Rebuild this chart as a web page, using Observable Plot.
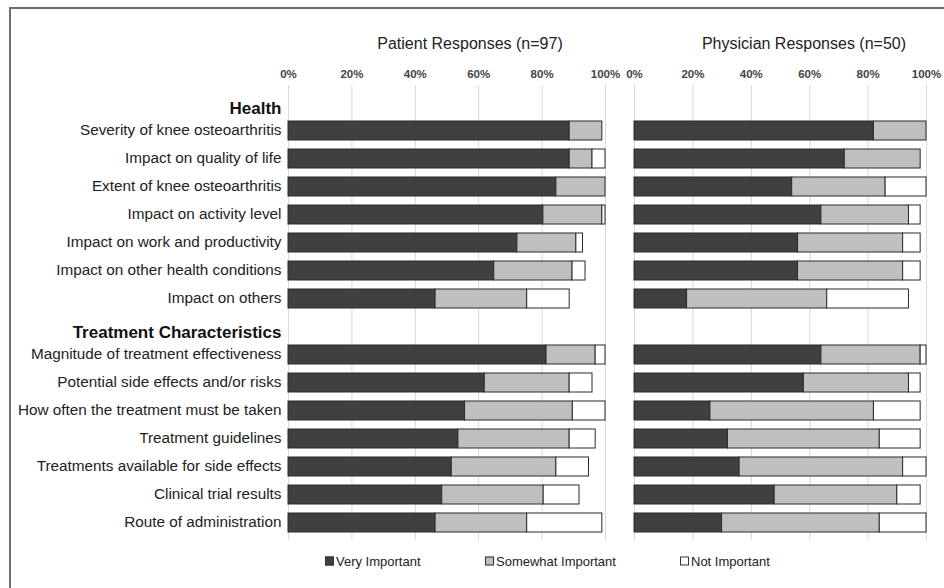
<!DOCTYPE html>
<html>
<head>
<meta charset="utf-8">
<script src="https://cdn.jsdelivr.net/npm/d3@7"></script>
<script src="https://cdn.jsdelivr.net/npm/@observablehq/plot@0.6"></script>
<style>
  body { margin: 0; background: #fff; }
  #wrap { position: relative; width: 944px; height: 588px; background: #fff; font-family: "Liberation Sans", Arial, sans-serif; overflow: hidden; }
  .abs { position: absolute; }
  .title { font-size: 16px; color: #222; white-space: nowrap; transform: translate(-50%, -50%); }
  .leg { font-size: 13px; color: #222; white-space: nowrap; transform: translateY(-50%); display: flex; align-items: center; }
  .sw { display: inline-block; width: 7px; height: 7px; border: 1px solid #333; margin-right: 2px; }
</style>
</head>
<body>
<div id="wrap"></div>
<script>
const groupHeaders = ["Health", "Treatment Characteristics"];
const healthItems = [
  "Severity of knee osteoarthritis",
  "Impact on quality of life",
  "Extent of knee osteoarthritis",
  "Impact on activity level",
  "Impact on work and productivity",
  "Impact on other health conditions",
  "Impact on others"
];
const treatmentItems = [
  "Magnitude of treatment effectiveness",
  "Potential side effects and/or risks",
  "How often the treatment must be taken",
  "Treatment guidelines",
  "Treatments available for side effects",
  "Clinical trial results",
  "Route of administration"
];
const levels = ["Very Important", "Somewhat Important", "Not Important"];
const levelColors = ["#404040", "#bfbfbf", "#ffffff"];
const xTicks = [0, 20, 40, 60, 80, 100];

// Patient responses (n=97), percent, health items then treatment items
const patientVery     = [88.7, 88.7, 84.5, 80.4, 72.2, 64.9, 46.4, 81.4, 61.9, 55.7, 53.6, 51.5, 48.5, 46.4];
const patientSomewhat = [10.3,  7.2, 15.5, 18.6, 18.6, 24.7, 28.9, 15.5, 26.8, 34.0, 35.1, 33.0, 32.0, 28.9];
const patientNot      = [ 0.0,  4.1,  0.0,  1.0,  2.1,  4.1, 13.4,  3.1,  7.2, 10.3,  8.2, 10.3, 11.3, 23.7];

// Physician responses (n=50), percent
const physicianVery     = [82, 72, 54, 64, 56, 56, 18, 64, 58, 26, 32, 36, 48, 30];
const physicianSomewhat = [18, 26, 32, 30, 36, 36, 48, 34, 36, 56, 52, 56, 42, 54];
const physicianNot      = [ 0,  0, 14,  4,  6,  6, 28,  2,  4, 16, 14,  8,  8, 16];

const items = [...healthItems, ...treatmentItems];
const yDomain = [groupHeaders[0], ...healthItems, groupHeaders[1], ...treatmentItems];

function longData(very, some, not) {
  const out = [];
  items.forEach((c, i) => {
    [very[i], some[i], not[i]].forEach((v, j) => {
      if (v > 0) out.push({cat: c, level: levels[j], value: v});
    });
  });
  return out;
}

const FONT = "Liberation Sans, Arial, sans-serif";
const H = 588, MT = 85, MB = 48;

function makePlot(data, opts) {
  const marks = [
    Plot.ruleX(xTicks, {stroke: "#d9d9d9", strokeWidth: 1}),
    Plot.barX(data, {y: "cat", x: "value", fill: "level", stroke: "#2a2a2a", strokeWidth: 1}),
    Plot.axisX({anchor: "top", ticks: xTicks, tickFormat: d => d + "%", tickSize: 0, tickPadding: 8, fontSize: 11.5, fontWeight: "bold", fill: "#444", label: null})
  ];
  if (opts.labels) {
    marks.push(Plot.axisY({tickSize: 0, tickPadding: 7, fontSize: 15.3, fill: "#222", label: null, dy: -1,
      tickFormat: d => groupHeaders.includes(d) ? "" : d}));
    marks.push(Plot.text(groupHeaders, {y: d => d, frameAnchor: "left", dx: -7, dy: 6, textAnchor: "end",
      fontWeight: "bold", fontSize: 17, fill: "#111", text: d => d}));
  }
  return Plot.plot({
    width: opts.width, height: H,
    marginLeft: opts.ml, marginRight: opts.mr, marginTop: MT, marginBottom: MB,
    style: {fontFamily: FONT, background: "transparent", overflow: "visible"},
    x: {domain: [0, 100], axis: null},
    y: {domain: yDomain, type: "band", paddingInner: 0.33, paddingOuter: 0.165, axis: null},
    color: {domain: levels, range: levelColors},
    marks
  });
}

const wrap = document.getElementById("wrap");

const p1 = makePlot(longData(patientVery, patientSomewhat, patientNot), {labels: true, width: 620, ml: 288, mr: 15});
p1.style.position = "absolute"; p1.style.left = "0px"; p1.style.top = "0px";
wrap.appendChild(p1);

const p2 = makePlot(longData(physicianVery, physicianSomewhat, physicianNot), {labels: false, width: 324, ml: 14, mr: 18});
p2.style.position = "absolute"; p2.style.left = "620px"; p2.style.top = "0px";
wrap.appendChild(p2);

// borders (left and top frame)
const bl = document.createElement("div");
bl.className = "abs"; Object.assign(bl.style, {left: "9px", top: "7px", width: "2px", height: "581px", background: "#6e6e6e"});
wrap.appendChild(bl);
const bt = document.createElement("div");
bt.className = "abs"; Object.assign(bt.style, {left: "9px", top: "7px", width: "935px", height: "2px", background: "#6e6e6e"});
wrap.appendChild(bt);

// titles
[["Patient Responses (n=97)", 470], ["Physician Responses (n=50)", 804]].forEach(([t, x]) => {
  const d = document.createElement("div");
  d.className = "abs title"; d.textContent = t;
  d.style.left = x + "px"; d.style.top = "44px";
  wrap.appendChild(d);
});

// legend
[[levels[0], 325], [levels[1], 485], [levels[2], 680]].forEach(([t, x], i) => {
  const d = document.createElement("div");
  d.className = "abs leg";
  d.style.left = x + "px"; d.style.top = "561px";
  const s = document.createElement("span");
  s.className = "sw"; s.style.background = levelColors[i];
  d.appendChild(s);
  d.appendChild(document.createTextNode(t));
  wrap.appendChild(d);
});
</script>
</body>
</html>
